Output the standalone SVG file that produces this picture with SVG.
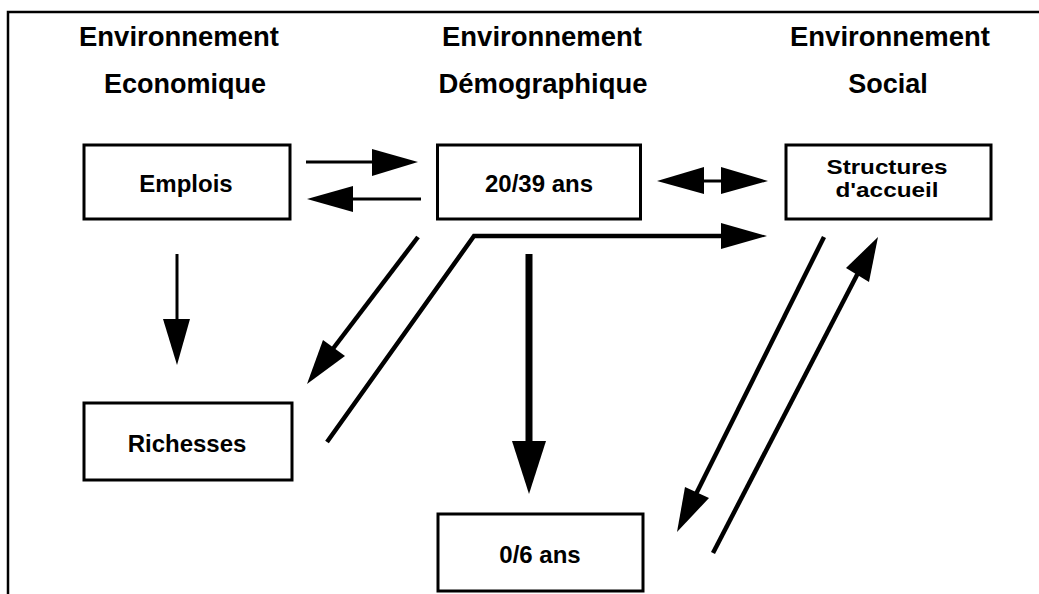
<svg xmlns="http://www.w3.org/2000/svg" width="1039" height="594" viewBox="0 0 1039 594">
<style>
.t{font-family:"Liberation Sans",Arial,sans-serif;font-weight:bold;fill:#000;text-anchor:middle}
.h{font-size:27px}
.l{font-size:24px}
.s{font-size:21px}
.box{fill:#fff;stroke:#000;stroke-width:3}
.ln{fill:none;stroke:#000;stroke-width:3}
.dl{fill:none;stroke:#000;stroke-width:4.5}
.hd{fill:#000;stroke:none}
</style>
<rect width="1039" height="594" fill="#fff"/>
<polyline points="8,594 8,12 1039,12" fill="none" stroke="#000" stroke-width="2.5"/>
<g id="titles">
<text class="t h" x="179" y="46" textLength="200" lengthAdjust="spacingAndGlyphs">Environnement</text>
<text class="t h" x="185" y="93">Economique</text>
<text class="t h" x="542" y="46" textLength="200" lengthAdjust="spacingAndGlyphs">Environnement</text>
<text class="t h" x="543" y="93" textLength="209" lengthAdjust="spacingAndGlyphs">Démographique</text>
<text class="t h" x="890" y="46" textLength="200" lengthAdjust="spacingAndGlyphs">Environnement</text>
<text class="t h" x="888" y="93">Social</text>
</g>
<g id="emplois">
<rect class="box" x="84" y="145" width="206" height="74"/>
<text class="t l" x="186" y="192">Emplois</text>
</g>
<g id="age2039">
<rect class="box" x="437.5" y="145" width="203" height="74"/>
<text class="t l" x="539" y="192">20/39 ans</text>
</g>
<g id="structures">
<rect class="box" x="786" y="145" width="205" height="74"/>
<text class="t s" x="887" y="174" textLength="121" lengthAdjust="spacingAndGlyphs">Structures</text>
<text class="t s" x="887" y="197" textLength="103" lengthAdjust="spacingAndGlyphs">d'accueil</text>
</g>
<g id="richesses">
<rect class="box" x="84" y="403" width="208" height="77"/>
<text class="t l" x="187" y="452">Richesses</text>
</g>
<g id="age06">
<rect class="box" x="438" y="514" width="205" height="77"/>
<text class="t l" x="540" y="563">0/6 ans</text>
</g>
<g id="connectors">
<line class="ln" x1="306" y1="162" x2="374" y2="162"/>
<polygon class="hd" points="372,149 418,162 372,176"/>
<line class="ln" x1="421" y1="199" x2="351" y2="199"/>
<polygon class="hd" points="353,186 307,199 353,212"/>
<line class="ln" x1="702" y1="181" x2="723" y2="181"/>
<polygon class="hd" points="704,167 657,181 704,194"/>
<polygon class="hd" points="721,167 768,181 721,194"/>
<polyline class="dl" points="327,442 474,236 723,236"/>
<polygon class="hd" points="721,223 767,236 721,249"/>
<line class="dl" x1="418" y1="237" x2="332" y2="350"/>
<polygon class="hd" points="323,340 345,356 307,384"/>
<line class="ln" x1="177" y1="254" x2="177" y2="321"/>
<polygon class="hd" points="163,319 190,319 177,365"/>
<line stroke="#000" stroke-width="7" x1="529" y1="254" x2="529" y2="443"/>
<polygon class="hd" points="512,441 546,441 529,494"/>
<line class="dl" x1="824" y1="237" x2="696" y2="494"/>
<polygon class="hd" points="685,487 709,498 677,532"/>
<line class="dl" x1="713" y1="553" x2="858" y2="273"/>
<polygon class="hd" points="846,268 869,282 878,237"/>
</g>
</svg>
